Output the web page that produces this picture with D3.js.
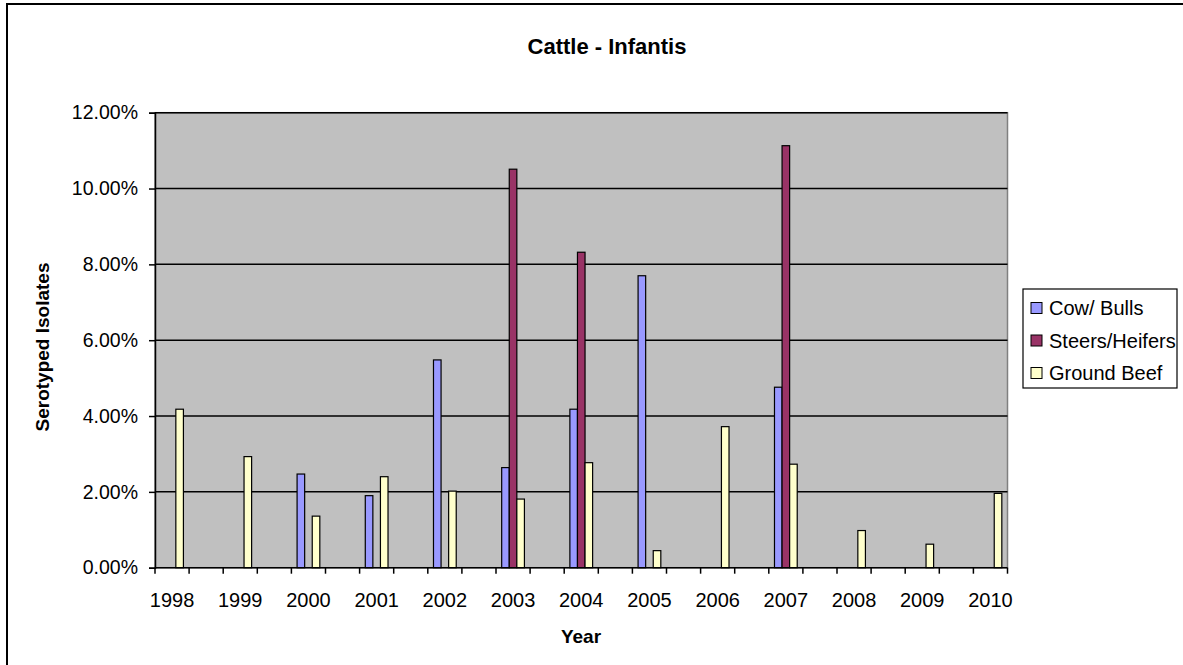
<!DOCTYPE html>
<html>
<head>
<meta charset="utf-8">
<script src="https://cdn.jsdelivr.net/npm/d3@7"></script>
<style>
  body { margin: 0; background: #fff; }
  svg text { font-family: "Liberation Sans", Arial, sans-serif; fill: #000; }
</style>
</head>
<body>
<div id="chart"></div>
<script>
// chart data
var years = ["1998","1999","2000","2001","2002","2003","2004","2005","2006","2007","2008","2009","2010"]
var seriesNames = ["Cow/ Bulls", "Steers/Heifers", "Ground Beef"]
var seriesColors = ["#9999FF", "#993366", "#FFFFCC"]
var cowBulls =      [0, 0, 2.47, 1.90, 5.48, 2.64, 4.18, 7.70, 0, 4.76, 0, 0, 0]
var steersHeifers = [0, 0, 0, 0, 0, 10.51, 8.32, 0, 0, 11.13, 0, 0, 0]
var groundBeef =    [4.18, 2.93, 1.36, 2.40, 2.02, 1.81, 2.77, 0.45, 3.72, 2.73, 0.98, 0.62, 1.96]
var yTicks = [0, 2, 4, 6, 8, 10, 12]

// layout
var width = 1183
var height = 665
var plot = { left: 155, right: 1007.5, top: 112.7, bottom: 567.7 }

var svg = d3.select('#chart').append('svg')
  .attr('width', width)
  .attr('height', height)

// outer chart border
svg.append('rect')
  .attr('x', 7).attr('y', 4)
  .attr('width', width + 10).attr('height', height + 10)
  .attr('fill', '#fff')
  .attr('stroke', '#000')
  .attr('stroke-width', 2)

// Excel-style: a blank slot between every year
var slots = d3.range(years.length * 2 - 1)
var xScale = d3.scaleBand()
  .domain(slots)
  .range([plot.left, plot.right])
  .paddingInner(0).paddingOuter(0)

var yScale = d3.scaleLinear()
  .domain([0, 12])
  .range([plot.bottom, plot.top])

// plot background
svg.append('rect')
  .attr('x', plot.left).attr('y', plot.top)
  .attr('width', plot.right - plot.left)
  .attr('height', plot.bottom - plot.top)
  .attr('fill', '#C0C0C0')
  .attr('stroke', '#808080')
  .attr('stroke-width', 1.5)

// gridlines
svg.append('g').selectAll('line')
  .data(yTicks.filter(function(d) { return d > 0 }))
  .enter().append('line')
  .attr('x1', plot.left).attr('x2', plot.right)
  .attr('y1', function(d) { return yScale(d) })
  .attr('y2', function(d) { return yScale(d) })
  .attr('stroke', '#000')
  .attr('stroke-width', 1.5)

// bars
var slotW = xScale.bandwidth()
var barW = slotW / 4.5
var groupOffset = (slotW - barW * 3) / 2
var allSeries = [cowBulls, steersHeifers, groundBeef]

allSeries.forEach(function(values, s) {
  var bars = values.map(function(v, i) { return { year: i, value: v } })
    .filter(function(d) { return d.value > 0 })
  svg.append('g').selectAll('rect')
    .data(bars)
    .enter().append('rect')
    .attr('x', function(d) { return xScale(d.year * 2) + groupOffset + s * barW })
    .attr('y', function(d) { return yScale(d.value) })
    .attr('width', barW)
    .attr('height', function(d) { return yScale(0) - yScale(d.value) })
    .attr('fill', seriesColors[s])
    .attr('stroke', '#000')
    .attr('stroke-width', 1.2)
})

// y axis
var yAxis = d3.axisLeft(yScale)
  .tickValues(yTicks)
  .tickSize(6)
  .tickPadding(11)
  .tickFormat(function(d) { return d.toFixed(2) + '%' })

var yG = svg.append('g')
  .attr('transform', 'translate(' + plot.left + ',0)')
  .call(yAxis)
yG.select('.domain').attr('stroke', '#000').attr('stroke-width', 1.5)
yG.selectAll('.tick line').attr('stroke', '#000').attr('stroke-width', 1.5)
yG.selectAll('.tick text')
  .style('font-family', '"Liberation Sans", Arial, sans-serif')
  .style('font-size', '19.5px')
  .attr('fill', '#000')

// x axis: ticks on slot boundaries, labels on year slots
var xLine = svg.append('g')
xLine.append('line')
  .attr('x1', plot.left).attr('x2', plot.right)
  .attr('y1', plot.bottom).attr('y2', plot.bottom)
  .attr('stroke', '#000').attr('stroke-width', 1.5)
xLine.selectAll('line.tick')
  .data(d3.range(slots.length + 1))
  .enter().append('line')
  .attr('class', 'tick')
  .attr('x1', function(d) { return plot.left + d * slotW })
  .attr('x2', function(d) { return plot.left + d * slotW })
  .attr('y1', plot.bottom).attr('y2', plot.bottom + 6)
  .attr('stroke', '#000').attr('stroke-width', 1.5)

svg.append('g').selectAll('text')
  .data(years)
  .enter().append('text')
  .attr('x', function(d, i) { return xScale(i * 2) + slotW / 2 })
  .attr('y', 607)
  .attr('text-anchor', 'middle')
  .style('font-size', '20px')
  .text(function(d) { return d })

// titles
svg.append('text')
  .attr('x', 607).attr('y', 54)
  .attr('text-anchor', 'middle')
  .style('font-size', '22px').style('font-weight', 'bold')
  .text('Cattle - Infantis')

svg.append('text')
  .attr('x', 581).attr('y', 643)
  .attr('text-anchor', 'middle')
  .style('font-size', '19px').style('font-weight', 'bold')
  .text('Year')

svg.append('text')
  .attr('transform', 'translate(49,347) rotate(-90)')
  .attr('text-anchor', 'middle')
  .style('font-size', '19px').style('font-weight', 'bold')
  .text('Serotyped Isolates')

// legend
var legend = svg.append('g')
legend.append('rect')
  .attr('x', 1023).attr('y', 289)
  .attr('width', 154).attr('height', 99)
  .attr('fill', '#fff')
  .attr('stroke', '#000')
  .attr('stroke-width', 1.2)

var items = legend.selectAll('g.item')
  .data(seriesNames)
  .enter().append('g')
  .attr('class', 'item')
  .attr('transform', function(d, i) { return 'translate(1031,' + (308 + i * 32.5) + ')' })
items.append('rect')
  .attr('x', 0).attr('y', -5.5)
  .attr('width', 11).attr('height', 11)
  .attr('fill', function(d, i) { return seriesColors[i] })
  .attr('stroke', '#000')
  .attr('stroke-width', 1)
items.append('text')
  .attr('x', 18).attr('y', 7)
  .style('font-size', '20px')
  .text(function(d) { return d })
</script>
</body>
</html>
